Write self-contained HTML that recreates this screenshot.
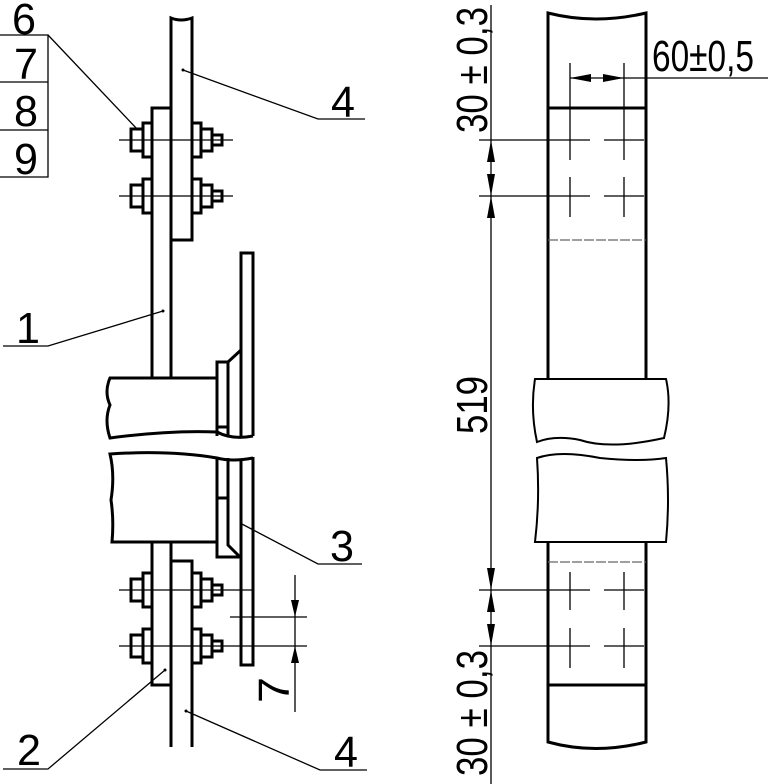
<!DOCTYPE html>
<html><head><meta charset="utf-8"><style>
html,body{margin:0;padding:0;background:#fff;}
svg{display:block;}
text{font-family:"Liberation Sans",sans-serif;font-size:44px;fill:#000;}
</style></head><body>
<svg width="768" height="784" viewBox="0 0 768 784" xmlns="http://www.w3.org/2000/svg">
<g fill="none" stroke="#000" stroke-width="3">
<path d="M171,240 V18 Q181,22 192,18 V240 Z" fill="#fff"/>
<path d="M152,378 V108 H171 M171,240 V378"/>
<g id="bolt">
<rect x="143" y="123" width="9" height="34"/>
<rect x="131" y="129" width="12" height="22"/>
<rect x="192" y="123" width="9" height="34"/>
<rect x="201" y="129" width="11" height="22"/>
<rect x="212" y="135" width="10" height="10"/>
</g>
<use href="#bolt" y="56"/>
<use href="#bolt" y="450"/>
<use href="#bolt" y="506"/>
<path d="M241,438 V253 H253 V436"/>
<path d="M217,436 V362 H228 L241,350 M228,362 V436 M217,427 H228"/>
<path d="M217,378 H110 Q104,392 110,405 Q104,420 110,438 Q170,430 217,432 Q232,440 253,436"/>
<path d="M253,458 Q232,462 217,458 Q170,450 110,454 Q115,475 111,500 Q114,520 112,542 H217"/>
<path d="M217,458 V557 H240 M228,458 V545 L240,557 M217,498 H228"/>
<path d="M241,460 V665 H253 V457"/>
<path d="M152,542 V685 H171 V542"/>
<path d="M171,747 V561 H192 V747"/>
</g>
<g fill="none" stroke="#000" stroke-width="1.3">
<path d="M119,140 H233 M119,196 H233 M119,590 H253 M119,646 H307 M230,617 H307 M295,575 V712"/>
<path d="M48,35 L138,130 M183,70 L318,119 H365 M163,311 L48,346 H3 M240,523 L318,564 H362 M165,670 L48,769 H3 M186,711 L320,770 H367"/>
<path d="M0,35 H48 V177 H0 M0,82 H48 M0,130 H48"/>
</g>
<g fill="#000">
<path d="M295,617 L291,600 H299 Z M295,646 L291,663 H299 Z"/>
<circle cx="183" cy="70" r="1.5"/><circle cx="163" cy="311" r="1.5"/><circle cx="165" cy="670" r="1.5"/><circle cx="186" cy="711" r="1.5"/>
</g>
<text x="12" y="34" textLength="24" lengthAdjust="spacingAndGlyphs">6</text>
<text x="14" y="79" textLength="24" lengthAdjust="spacingAndGlyphs">7</text>
<text x="14" y="126" textLength="24" lengthAdjust="spacingAndGlyphs">8</text>
<text x="14" y="174" textLength="24" lengthAdjust="spacingAndGlyphs">9</text>
<text x="331" y="117" textLength="24" lengthAdjust="spacingAndGlyphs">4</text>
<text x="16" y="343" textLength="24" lengthAdjust="spacingAndGlyphs">1</text>
<text x="330" y="561" textLength="24" lengthAdjust="spacingAndGlyphs">3</text>
<text x="17" y="765" textLength="24" lengthAdjust="spacingAndGlyphs">2</text>
<text x="334" y="767" textLength="24" lengthAdjust="spacingAndGlyphs">4</text>
<text transform="translate(289,703) rotate(-90)" textLength="26" lengthAdjust="spacingAndGlyphs">7</text>

<g fill="none" stroke="#000" stroke-width="3">
<path d="M548,379 V13 Q595,25 646,13 V379"/>
<path d="M548,108 H646"/>
<path d="M535,379 H666 Q672,405 664,438 Q610,450 580,440 Q555,435 537,442 Q530,410 535,379 Z" stroke-width="2"/>
<path d="M537,458 Q560,450 600,458 Q640,462 666,458 Q670,500 666,542 H535 Q540,500 537,458 Z" stroke-width="2"/>
<path d="M548,542 V742 Q595,755 646,742 V542 M548,685 H646"/>
</g>
<g fill="none" stroke="#000" stroke-width="1.3">
<path d="M548,240 H646 M548,562 H646" stroke-dasharray="10,2" stroke="#666"/>
<path d="M479,140 H590 M604,140 H644 M479,196 H590 M604,196 H644 M479,590 H590 M604,590 H644 M479,646 H590 M604,646 H644"/>
<path d="M570,63 V160 M624,63 V160 M570,177 V217 M624,177 V217 M570,572 V610 M624,572 V610 M570,628 V668 M624,628 V668"/>
<path d="M570,78 H768 M491,5 V784"/>
</g>
<g fill="#000">
<path d="M570,78 L591,74 V82 Z M624,78 L603,74 V82 Z"/>
<path d="M491,140 L487,162 H495 Z M491,196 L487,174 H495 Z M491,196 L487,218 H495 Z"/>
<path d="M491,590 L487,568 H495 Z M491,590 L487,612 H495 Z M491,646 L487,624 H495 Z"/>
</g>
<text x="652" y="71" textLength="102" lengthAdjust="spacingAndGlyphs">60±0,5</text>
<text transform="translate(487,133) rotate(-90)" textLength="126" lengthAdjust="spacingAndGlyphs">30 ± 0,3</text>
<text transform="translate(487,434) rotate(-90)" textLength="58" lengthAdjust="spacingAndGlyphs">519</text>
<text transform="translate(487,776) rotate(-90)" textLength="126" lengthAdjust="spacingAndGlyphs">30 ± 0,3</text>
</svg>
</body></html>
